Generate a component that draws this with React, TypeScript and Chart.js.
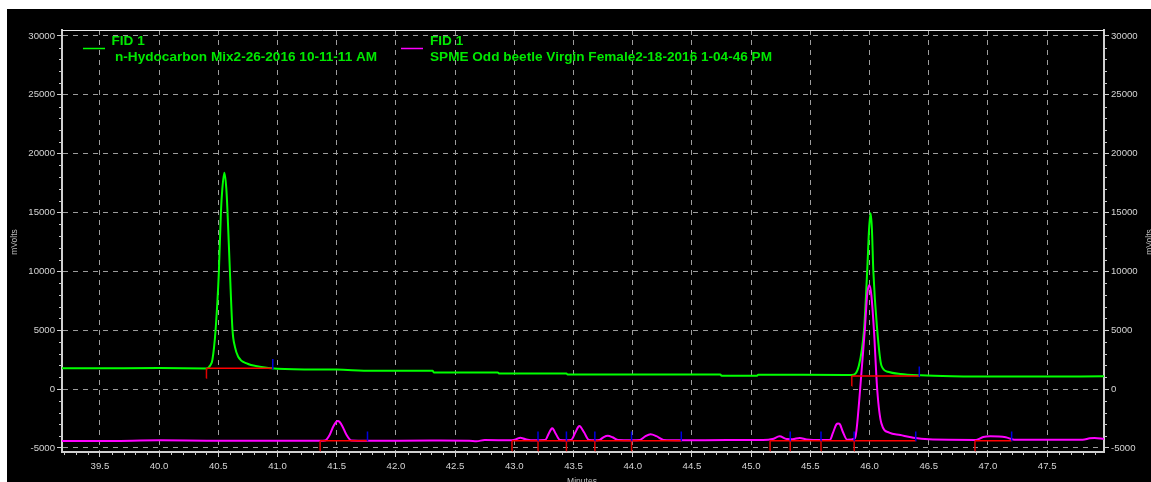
import { useEffect, useRef } from 'react';
import { Chart, registerables } from 'chart.js';

Chart.register(...registerables);

const FONT = '"Liberation Sans", Arial, Helvetica, sans-serif';

// Axis ranges (minutes, mV)
const X_MIN = 39.18;
const X_MAX = 47.98;
const Y_MIN = -5350;
const Y_MAX = 30500;
const X_MAJOR_STEP = 0.5;
const X_MINOR_STEP = 0.1;
const Y_MAJOR_STEP = 5000;
const Y_MINOR_STEP = 1000;

// Labelled tick values
const xTickValues = [39.5, 40.0, 40.5, 41.0, 41.5, 42.0, 42.5, 43.0, 43.5, 44.0, 44.5, 45.0, 45.5, 46.0, 46.5, 47.0, 47.5];
const yTickValues = [-5000, 0, 5000, 10000, 15000, 20000, 25000, 30000];

// FID 1 — n-Hydocarbon Mix (standard run)
const hydrocarbonMinutes = [
  39.18, 39.5, 40.0, 40.4, 40.434, 40.45, 40.477, 40.505, 40.522, 40.534, 40.551, 40.568, 40.578,
  40.598, 40.62, 40.64, 40.668, 40.74, 40.85, 41.0, 41.5, 41.8, 42.31, 42.32, 42.86, 42.87, 43.44,
  43.45, 44.74, 44.75, 45.05, 45.06, 45.8, 45.85, 45.91, 45.953, 45.98, 45.996, 46.009, 46.02,
  46.032, 46.065, 46.1, 46.155, 46.26, 46.43, 46.7, 47.2, 47.98,
];
const hydrocarbonMv = [
  1760, 1765, 1785, 1750, 2040, 2465, 5000, 10000, 15000, 17000, 18380, 17000, 15000,
  10000, 5000, 3600, 2745, 2175, 1895, 1730, 1650, 1555, 1550, 1410, 1410, 1325, 1325,
  1230, 1230, 1130, 1130, 1215, 1190, 1200, 2000, 5000, 10000, 13600, 14930, 13600,
  10000, 5000, 2000, 1470, 1275, 1160, 1090, 1065, 1075,
];

// FID 1 — SPME Odd beetle Virgin Female (sample run)
const spmeMinutes = [
  39.18, 39.6, 40.0, 40.4, 41.0, 41.36, 41.4, 41.44, 41.47, 41.495, 41.51, 41.525, 41.55, 41.58,
  41.625, 41.76, 42.3, 42.62, 42.68, 42.75, 42.98, 43.02, 43.05, 43.09, 43.14, 43.26, 43.29, 43.31,
  43.32, 43.33, 43.35, 43.385, 43.44, 43.48, 43.515, 43.54, 43.55, 43.56, 43.59, 43.63, 43.68, 43.72,
  43.755, 43.79, 43.83, 43.88, 43.99, 44.06, 44.105, 44.15, 44.2, 44.26, 44.41, 44.8, 45.1, 45.18,
  45.24, 45.3, 45.35, 45.41, 45.47, 45.6, 45.665, 45.69, 45.72, 45.735, 45.75, 45.775, 45.81,
  45.877, 45.89, 45.92, 45.96, 45.98, 45.998, 46.015, 46.037, 46.065, 46.1, 46.166, 46.26, 46.37,
  46.5, 46.9, 46.96, 47.02, 47.15, 47.22, 47.8, 47.86, 47.9, 47.98,
];
const spmeMv = [
  -4420, -4410, -4360, -4390, -4400, -4400, -4380, -3900, -3200, -2800, -2720, -2800, -3200, -3850,
  -4380, -4400, -4380, -4390, -4430, -4340, -4350, -4250, -4140, -4250, -4350, -4330, -3800, -3420,
  -3340, -3420, -3800, -4330, -4360, -4320, -3700, -3220, -3145, -3220, -3700, -4320, -4360, -4320,
  -4080, -3970, -4100, -4340, -4360, -4330, -4030, -3850, -4000, -4320, -4360, -4340, -4330, -4250,
  -4020, -4250, -4260, -4160, -4290, -4340, -4330, -3750, -3000, -2920, -3000, -3650, -4300,
  -4190, -3480, -85, 5010, 8000, 8840, 8000, 5010, -85, -2920, -3710, -3910, -4140,
  -4270, -4320, -4080, -4020, -4100, -4300, -4310, -4190, -4160, -4240,
];

// Integration events: peak baselines, peak starts (red) and peak ends (blue)
const hydrocarbonPeakStart = [40.4, 45.85];
const hydrocarbonPeakEnd = [40.96, 46.42];
const hydrocarbonPeakBase = [1760, 1105];

const spmeBaseStart = [41.36, 42.98, 45.16, 46.89];
const spmeBaseEnd = [41.76, 44.41, 46.39, 47.2];
const SPME_BASE = -4400;
const spmeStartMarks = [41.36, 42.98, 43.2, 43.44, 43.68, 43.99, 45.16, 45.33, 45.59, 45.87, 46.89];
const spmeEndMarks = [41.76, 43.2, 43.44, 43.68, 43.99, 44.41, 45.33, 45.59, 45.87, 46.39, 47.2];
const MARK_DOWN = 850;
const MARK_UP = 800;

const legendEntries = [
  { title: 'FID 1', name: 'n-Hydocarbon Mix2-26-2016 10-11-11 AM', color: '#00ff00' },
  { title: 'FID 1', name: 'SPME Odd beetle Virgin Female2-18-2016 1-04-46 PM', color: '#ff00ff' },
];

type Pt = { x: number; y: number | null };

const zipPoints = (xs: number[], ys: number[]): Pt[] => xs.map((x, i) => ({ x, y: ys[i] }));

const segments = (starts: number[], ends: number[], levels: number[]): Pt[] => {
  const out: Pt[] = [];
  starts.forEach((s, i) => {
    out.push({ x: s, y: levels[i] }, { x: ends[i], y: levels[i] }, { x: ends[i], y: null });
  });
  return out;
};

const verticalMarks = (xs: number[], levels: number[], lo: number, hi: number): Pt[] => {
  const out: Pt[] = [];
  xs.forEach((x, i) => {
    out.push({ x, y: levels[i] + lo }, { x: x + 1e-6, y: levels[i] + hi }, { x: x + 2e-6, y: null });
  });
  return out;
};

const chromPlugin = {
  id: 'chromDecor',
  afterDraw(chart: any) {
    const { ctx, chartArea: a, scales } = chart;
    const xs = scales.x;
    const ys = scales.y;
    ctx.save();

    // minor ticks on the bottom, left and right axes
    ctx.strokeStyle = '#c8c8c8';
    ctx.lineWidth = 1;
    ctx.beginPath();
    const xi0 = Math.ceil(X_MIN / X_MINOR_STEP);
    const xi1 = Math.floor(X_MAX / X_MINOR_STEP);
    for (let i = xi0; i <= xi1; i++) {
      if (i % Math.round(X_MAJOR_STEP / X_MINOR_STEP) === 0) continue;
      const px = Math.round(xs.getPixelForValue(i * X_MINOR_STEP)) + 0.5;
      ctx.moveTo(px, a.bottom);
      ctx.lineTo(px, a.bottom + 3);
    }
    for (let v = Math.ceil(Y_MIN / Y_MINOR_STEP) * Y_MINOR_STEP; v <= Y_MAX; v += Y_MINOR_STEP) {
      if (v % Y_MAJOR_STEP === 0) continue;
      const py = Math.round(ys.getPixelForValue(v)) + 0.5;
      ctx.moveTo(a.left - 3, py);
      ctx.lineTo(a.left, py);
      ctx.moveTo(a.right, py);
      ctx.lineTo(a.right + 3, py);
    }
    ctx.stroke();

    // top edge of the plot frame
    ctx.strokeStyle = '#e8e8e8';
    ctx.beginPath();
    ctx.moveTo(a.left, Math.round(a.top) + 0.5);
    ctx.lineTo(a.right, Math.round(a.top) + 0.5);
    ctx.stroke();

    // legend
    const legendX = [a.left + 21, a.left + 339];
    const nameOffset = [32, 29];
    legendEntries.forEach((e, i) => {
      const lx = legendX[i];
      ctx.strokeStyle = e.color;
      ctx.lineWidth = 1.5;
      ctx.beginPath();
      ctx.moveTo(lx, a.top + 18.5);
      ctx.lineTo(lx + 22, a.top + 18.5);
      ctx.stroke();
      ctx.fillStyle = '#00e800';
      ctx.font = `bold 13.6px ${FONT}`;
      ctx.textAlign = 'left';
      ctx.textBaseline = 'alphabetic';
      ctx.fillText(e.title, lx + nameOffset[i] - (i === 0 ? 3.5 : 0), a.top + 15);
      ctx.fillText(e.name, lx + nameOffset[i], a.top + 31);
    });

    // axis titles
    ctx.fillStyle = '#bdbdbd';
    ctx.font = `8.5px ${FONT}`;
    ctx.textAlign = 'center';
    ctx.textBaseline = 'middle';
    const midY = (a.top + a.bottom) / 2 + 1;
    ctx.save();
    ctx.translate(8, midY);
    ctx.rotate(-Math.PI / 2);
    ctx.fillText('mVolts', 0, 0);
    ctx.restore();
    ctx.save();
    ctx.translate(chart.width - 1, midY);
    ctx.rotate(-Math.PI / 2);
    ctx.fillText('mVolts', 0, 0);
    ctx.restore();
    ctx.textBaseline = 'top';
    ctx.fillText('Minutes', (a.left + a.right) / 2 - 1, a.bottom + 25);

    ctx.restore();
  },
};

const setTicks = (values: number[]) => (s: any) => {
  s.ticks = values.map((value) => ({ value }));
};

export default function App() {
  const canvasRef = useRef<HTMLCanvasElement | null>(null);

  useEffect(() => {
    if (!canvasRef.current) return;
    const tickFont = { family: FONT, size: 9.6 };
    const chart = new Chart(canvasRef.current, {
      type: 'line',
      data: {
        datasets: [
          {
            label: 'blue ends',
            data: [
              ...verticalMarks(hydrocarbonPeakEnd, hydrocarbonPeakBase, -50, MARK_UP),
              ...verticalMarks(spmeEndMarks, spmeEndMarks.map(() => SPME_BASE), 0, MARK_UP),
            ],
            borderColor: '#0000e0',
            borderWidth: 1.5,
            pointRadius: 0,
            spanGaps: false,
            order: 0,
          },
          {
            label: 'red starts',
            data: [
              ...verticalMarks(hydrocarbonPeakStart, hydrocarbonPeakBase, -MARK_DOWN, 0),
              ...verticalMarks(spmeStartMarks, spmeStartMarks.map(() => SPME_BASE), -MARK_DOWN, 0),
            ],
            borderColor: '#e00000',
            borderWidth: 1.5,
            pointRadius: 0,
            spanGaps: false,
            order: 1,
          },
          {
            label: 'baselines',
            data: [
              ...segments(hydrocarbonPeakStart, hydrocarbonPeakEnd, hydrocarbonPeakBase),
              ...segments(spmeBaseStart, spmeBaseEnd, spmeBaseStart.map(() => SPME_BASE)),
            ],
            borderColor: '#ff0000',
            borderWidth: 1.5,
            pointRadius: 0,
            spanGaps: false,
            order: 2,
          },
          {
            label: legendEntries[1].name,
            data: zipPoints(spmeMinutes, spmeMv),
            borderColor: '#ff00ff',
            borderWidth: 2,
            pointRadius: 0,
            cubicInterpolationMode: 'monotone',
            order: 3,
          },
          {
            label: legendEntries[0].name,
            data: zipPoints(hydrocarbonMinutes, hydrocarbonMv),
            borderColor: '#00ff00',
            borderWidth: 2,
            pointRadius: 0,
            cubicInterpolationMode: 'monotone',
            order: 4,
          },
        ] as any,
      },
      options: {
        animation: false,
        responsive: false,
        devicePixelRatio: 1,
        events: [],
        layout: { padding: { top: 21, left: 0, right: 0, bottom: 0 } },
        plugins: { legend: { display: false }, tooltip: { enabled: false }, title: { display: false } },
        scales: {
          x: {
            type: 'linear',
            position: 'bottom',
            min: X_MIN,
            max: X_MAX,
            afterBuildTicks: setTicks(xTickValues),
            afterFit: (s: any) => { s.height = 30; },
            ticks: {
              autoSkip: false,
              maxRotation: 0,
              minRotation: 0,
              padding: 4,
              color: '#d4d4d4',
              font: tickFont,
              callback: (v: any) => Number(v).toFixed(1),
            },
            grid: { color: '#9c9c9c', lineWidth: 1, tickColor: '#d0d0d0', tickLength: 5 },
            border: { color: '#d0d0d0', width: 2, dash: [5, 5] },
          },
          y: {
            type: 'linear',
            position: 'left',
            min: Y_MIN,
            max: Y_MAX,
            afterBuildTicks: setTicks(yTickValues),
            afterFit: (s: any) => { s.width = 55; },
            ticks: {
              autoSkip: false,
              padding: 2,
              color: '#d4d4d4',
              font: tickFont,
              callback: (v: any) => String(v),
            },
            grid: { color: '#9c9c9c', lineWidth: 1, tickColor: '#d0d0d0', tickLength: 5 },
            border: { color: '#d0d0d0', width: 2, dash: [5, 5] },
          },
          y2: {
            type: 'linear',
            position: 'right',
            min: Y_MIN,
            max: Y_MAX,
            afterBuildTicks: setTicks(yTickValues),
            afterFit: (s: any) => { s.width = 47; },
            ticks: {
              autoSkip: false,
              padding: 2,
              color: '#d4d4d4',
              font: tickFont,
              callback: (v: any) => String(v),
            },
            grid: { drawOnChartArea: false, tickColor: '#d0d0d0', tickLength: 5 },
            border: { color: '#d0d0d0', width: 2 },
          },
        },
      } as any,
      plugins: [chromPlugin],
    });
    return () => chart.destroy();
  }, []);

  return (
    <div
      style={{
        position: 'absolute',
        left: 7,
        top: 9,
        width: 1144,
        height: 473,
        background: '#000',
        overflow: 'hidden',
      }}
    >
      <canvas ref={canvasRef} width={1144} height={473} style={{ display: 'block' }} />
    </div>
  );
}
